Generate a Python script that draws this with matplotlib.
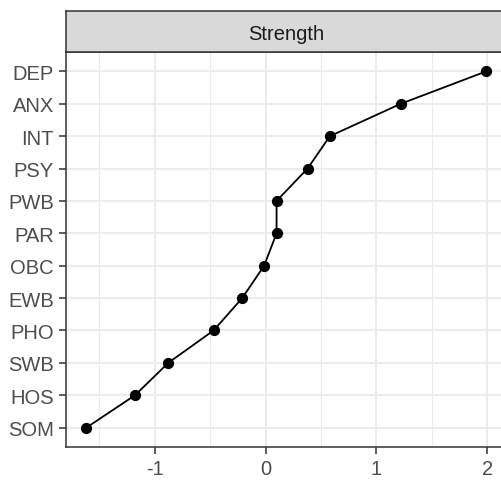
import numpy as np
import matplotlib.pyplot as plt

# centrality estimates (standardized strength), bottom to top
nodes = ["SOM", "HOS", "SWB", "PHO", "EWB", "OBC", "PAR", "PWB", "PSY", "INT", "ANX", "DEP"]
strength = [-1.617, -1.178, -0.878, -0.469, -0.211, -0.013, 0.099, 0.099, 0.379, 0.58, 1.22, 1.99]
x_ticks = [-1, 0, 1, 2]
panel_title = "Strength"

plt.rcParams["font.family"] = ["Liberation Sans", "DejaVu Sans"]
plt.rcParams["axes.unicode_minus"] = False

W, H = 502, 481
fig = plt.figure(figsize=(W / 100, H / 100), dpi=100)

# panel (right border falls outside the canvas)
left, right, top, bottom = 66.5, 506, 53, 448
ax = fig.add_axes([left / W, (H - bottom) / H, (right - left) / W, (bottom - top) / H])

y = np.arange(len(nodes))
ax.plot(strength, y, color="black", lw=1.3, zorder=3)
ax.scatter(strength, y, s=50, color="black", zorder=4)

span = max(strength) - min(strength)
ax.set_xlim(min(strength) - 0.05 * span, max(strength) + 0.05 * span)
ax.set_ylim(-0.6, len(nodes) - 1 + 0.6)

ax.set_xticks(x_ticks)
ax.set_xticks([-1.5, -0.5, 0.5, 1.5], minor=True)
ax.set_yticks(y)
ax.set_yticklabels(nodes)
ax.grid(which="major", color="#EBEBEB", lw=1.4, zorder=0)
ax.grid(which="minor", axis="x", color="#EBEBEB", lw=0.8, zorder=0)
ax.set_axisbelow(True)
ax.tick_params(axis="both", which="major", length=5, width=1.1, color="#333333",
               labelcolor="#4D4D4D", labelsize=14.5, pad=4)
ax.tick_params(which="minor", length=0)
for s in ax.spines.values():
    s.set_color("#333333")
    s.set_linewidth(1.1)

# facet strip
strip_top = 12
sax = fig.add_axes([left / W, (H - top) / H, (right - left) / W, (top - strip_top) / H])
sax.set_xlim(0, 1)
sax.set_ylim(0, 1)
sax.set_xticks([])
sax.set_yticks([])
sax.set_facecolor("#D9D9D9")
for s in sax.spines.values():
    s.set_color("#333333")
    s.set_linewidth(1.1)
sax.text(0.5, 0.44, panel_title, ha="center", va="center", fontsize=14.5, color="#1A1A1A")

fig.savefig("out.png", dpi=100)
